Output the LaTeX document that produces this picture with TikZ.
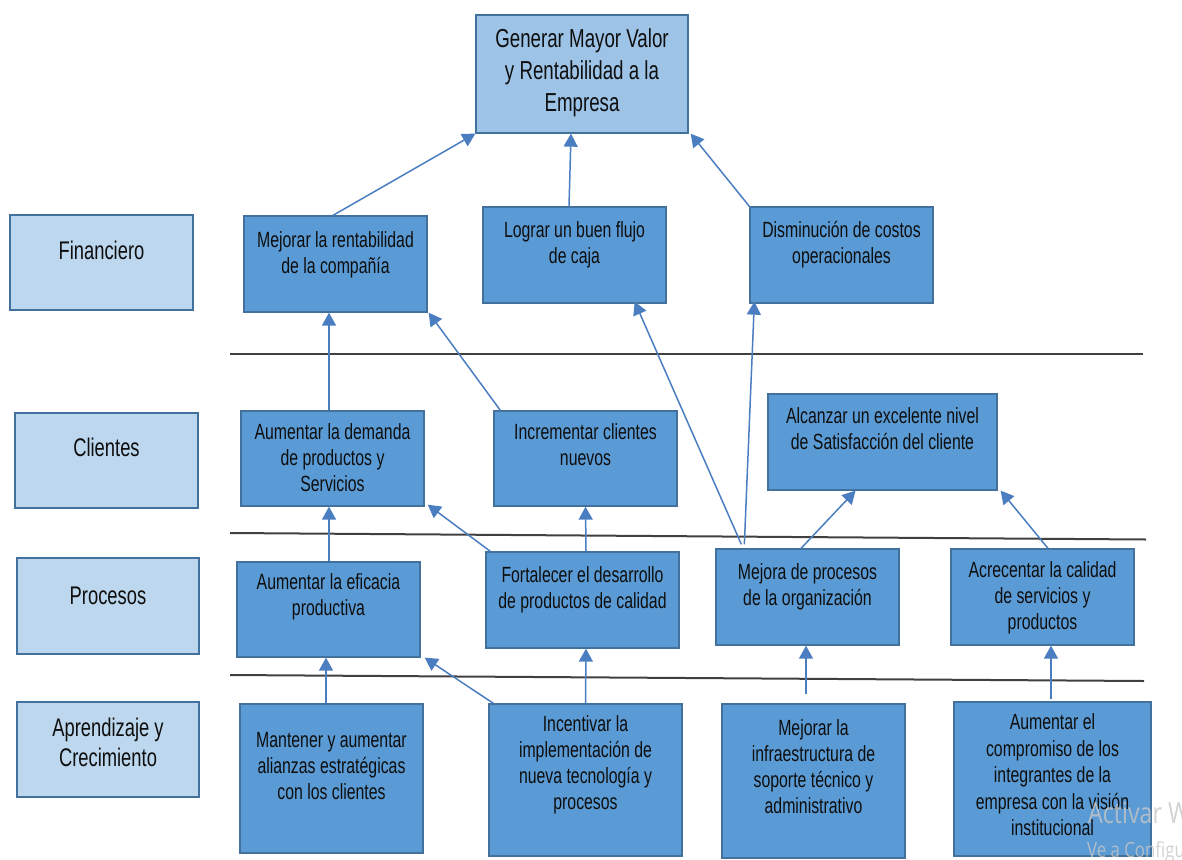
\documentclass[tikz,border=0pt]{standalone}
\usepackage{fontspec}
\setmainfont{Liberation Sans}[FakeStretch=0.72]
\newfontfamily\wmfont{Open Sans}[FakeStretch=0.8]
\usetikzlibrary{fit,arrows.meta}

\definecolor{boxfill}{HTML}{5B9BD5}
\definecolor{boxline}{HTML}{41719C}
\definecolor{topfill}{HTML}{9DC3E6}
\definecolor{sidefill}{HTML}{BDD7EE}
\definecolor{arrowcol}{HTML}{4A7EC1}
\definecolor{txtcol}{HTML}{0E0E0E}
\definecolor{rulecol}{HTML}{404040}

\tikzset{
  objbox/.style={draw=boxline, line width=1.3pt, fill=boxfill, inner sep=0pt},
  topbox/.style={objbox, fill=topfill},
  sidebox/.style={objbox, fill=sidefill},
  btxt/.style={anchor=north, inner sep=0pt, align=center, text=txtcol,
    font=\fontsize{22}{26}\selectfont},
  ttxt/.style={btxt, font=\fontsize{26}{32}\selectfont},
  stxt/.style={btxt, font=\fontsize{25.5}{30}\selectfont},
  arr/.style={draw=arrowcol, line width=1.5pt,
    -{Triangle[length=13pt,width=14pt,fill=arrowcol]}},
  sep/.style={draw=rulecol, line width=2pt},
}

\begin{document}
\begin{tikzpicture}[x=1pt,y=-1pt]
\useasboundingbox (0,0) rectangle (1182,859);

% perspective labels
\node[sidebox, fit={(10,215) (193,310)}] (pfin) {};
\node[sidebox, fit={(15,413) (198,508)}] (pcli) {};
\node[sidebox, fit={(17,558) (199,654)}] (ppro) {};
\node[sidebox, fit={(17,702) (199,797)}] (papr) {};
\node[stxt] (tpfin) at (pfin.north |- 0,238) {\strut Financiero};
\node[stxt] (tpcli) at (pcli.north |- 0,435) {\strut Clientes};
\node[stxt] (tppro) at (ppro.north |- 0,583) {\strut Procesos};
\node[stxt] (tpapr) at (papr.north |- 0,715) {\strut Aprendizaje y\\Crecimiento};

% separators between perspectives
\coordinate (s1a) at (230,354);  \coordinate (s1b) at (1143,354);
\coordinate (s2a) at (230,533);  \coordinate (s2b) at (1146,539.5);
\coordinate (s3a) at (230,675);  \coordinate (s3b) at (1144,681);
\draw[sep] (s1a) -- (s1b);
\draw[sep] (s2a) -- (s2b);
\draw[sep] (s3a) -- (s3b);

% goal
\node[topbox, fit={(476,15) (688,133)}] (goal) {};
\node[ttxt] (tgoal) at (goal.north |- 0,24.6) {\strut Generar Mayor Valor\\y Rentabilidad a la\\Empresa};

% financial objectives
\node[objbox, fit={(244,216) (427,312)}] (fin1) {};
\node[objbox, fit={(483,207) (666,303)}] (fin2) {};
\node[objbox, fit={(750,207) (933,303)}] (fin3) {};
\node[btxt] (tfin1) at (fin1.north |- 0,229) {\strut Mejorar la rentabilidad\\de la compañía};
\node[btxt] (tfin2) at (fin2.north |- 0,219) {\strut Lograr un buen flujo\\de caja};
\node[btxt] (tfin3) at (fin3.north |- 0,219) {\strut Disminución de costos\\operacionales};

% customer objectives
\node[objbox, fit={(241,411) (424,506)}] (cli1) {};
\node[objbox, fit={(494,411) (677,506)}] (cli2) {};
\node[objbox, fit={(768,394) (997,490)}] (cli3) {};
\node[btxt] (tcli1) at (cli1.north |- 0,421) {\strut Aumentar la demanda\\de productos y\\Servicios};
\node[btxt] (tcli2) at (cli2.north |- 0,421) {\strut Incrementar clientes\\nuevos};
\node[btxt] (tcli3) at (cli3.north |- 0,405) {\strut Alcanzar un excelente nivel\\de Satisfacción del cliente};

% process objectives
\node[objbox, fit={(237,562) (420,657)}] (pro1) {};
\node[objbox, fit={(486,552) (679,648)}] (pro2) {};
\node[objbox, fit={(716,549) (899,645)}] (pro3) {};
\node[objbox, fit={(951,549) (1134,645)}] (pro4) {};
\node[btxt] (tpro1) at (pro1.north |- 0,571) {\strut Aumentar la eficacia\\productiva};
\node[btxt] (tpro2) at (pro2.north |- 0,564.5) {\strut Fortalecer el desarrollo\\de productos de calidad};
\node[btxt] (tpro3) at (pro3.north |- 0,561) {\strut Mejora de procesos\\de la organización};
\node[btxt] (tpro4) at (pro4.north |- 0,559) {\strut Acrecentar la calidad\\de servicios y\\productos};

% learning and growth objectives
\node[objbox, fit={(240,704) (423,853)}] (apr1) {};
\node[objbox, fit={(489,704) (682,856)}] (apr2) {};
\node[objbox, fit={(722,704) (905,858)}] (apr3) {};
\node[objbox, fit={(954,702) (1151,856)}] (apr4) {};
\node[btxt] (tapr1) at (apr1.north |- 0,729) {\strut Mantener y aumentar\\alianzas estratégicas\\con los clientes};
\node[btxt] (tapr2) at (apr2.north |- 0,713) {\strut Incentivar la\\implementación de\\nueva tecnología y\\procesos};
\node[btxt] (tapr3) at (apr3.north |- 0,717) {\strut Mejorar la\\infraestructura de\\soporte técnico y\\administrativo};
\node[btxt, font=\fontsize{22}{26.5}\selectfont] (tapr4) at (apr4.north |- 0,711) {\strut Aumentar el\\compromiso de los\\integrantes de la\\empresa con la visión\\institucional};

% cause-effect links
\draw[arr] ([xshift=-2.5]fin1.north) -- (goal.south west);
\draw[arr] ([xshift=-5.5]fin2.north) -- ([xshift=-11]goal.south);
\draw[arr] (fin3.north west) -- ([xshift=2]goal.south east);

\draw[arr] ([xshift=-3.5]cli1.north) -- ([xshift=-6.5]fin1.south);
\draw[arr] ([xshift=7]cli2.north west) -- ([xshift=1]fin1.south east);
\draw[arr] ([xshift=26,yshift=4]pro3.north west) -- ([xshift=-32,yshift=2]fin2.south east);
\draw[arr] ([xshift=29,yshift=4]pro3.north west) -- ([xshift=5,yshift=2]fin3.south west);

\draw[arr] ([xshift=-6.5]pro3.north) -- ([xshift=-27]cli3.south);
\draw[arr] ([xshift=5.5]pro4.north) -- ([xshift=3]cli3.south east);
\draw[arr] ([xshift=0.5]pro1.north) -- ([xshift=-3.5]cli1.south);
\draw[arr] ([xshift=5]pro2.north west) -- ([xshift=3,yshift=2]cli1.south east);
\draw[arr] ([xshift=3.5]pro2.north) -- (cli2.south);

\draw[arr] ([xshift=-5.5]apr1.north) -- ([xshift=-2.5]pro1.south);
\draw[arr] ([xshift=5]apr2.north west) -- ([xshift=4]pro1.south east);
\draw[arr] (apr2.north) -- ([xshift=3.5]pro2.south);
\draw[arr] ([xshift=-7.5,yshift=9]apr3.north) -- ([xshift=-1.5]pro3.south);
\draw[arr] ([xshift=-1.5,yshift=2]apr4.north) -- ([xshift=8.5]pro4.south);

% system notice overlay, running off the right edge
\node[anchor=base west, inner sep=0pt, text=gray!45, opacity=0.8,
  font=\wmfont\fontsize{29}{30}\selectfont] (wm1) at (1088,823) {Activar Windows};
\node[anchor=base west, inner sep=0pt, text=gray!45, opacity=0.8,
  font=\wmfont\fontsize{21}{22}\selectfont] (wm2) at (1087,857) {Ve a Configuración};
\end{tikzpicture}
\end{document}
